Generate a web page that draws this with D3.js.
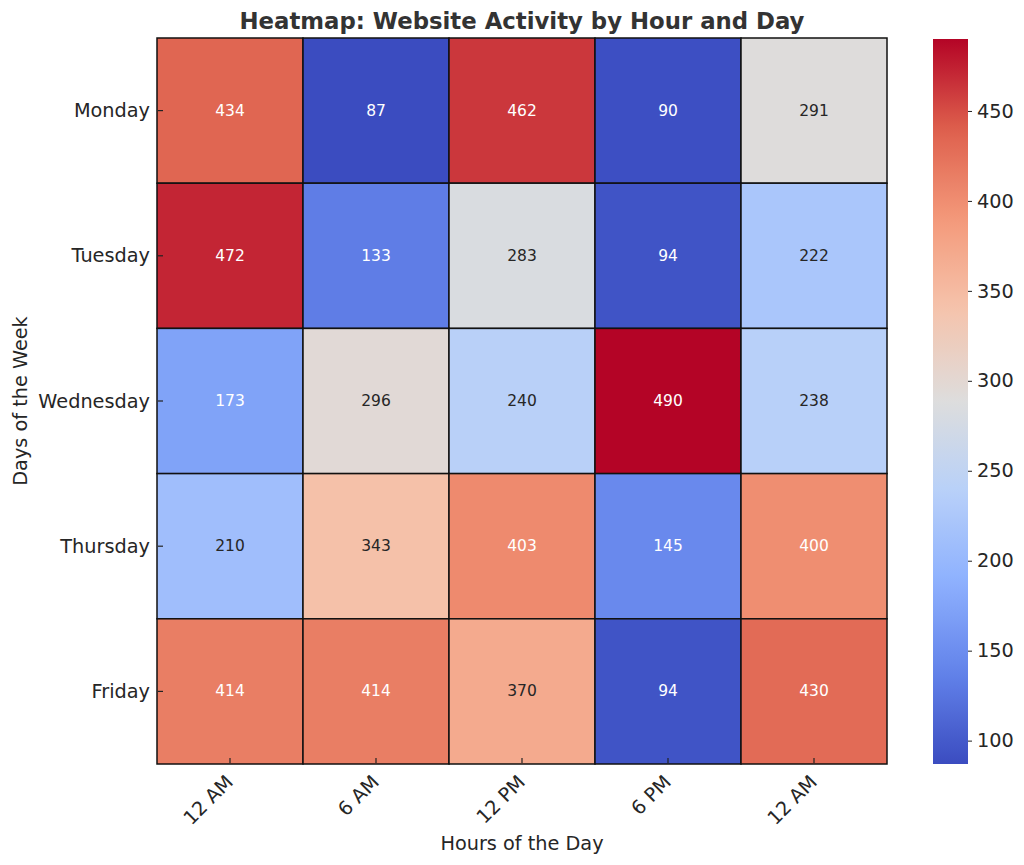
<!DOCTYPE html>
<html>
<head>
<meta charset="utf-8">
<script src="https://cdn.jsdelivr.net/npm/d3@7"></script>
<style>
  body { margin: 0; background: #fff; }
  svg { display: block; font-family: "DejaVu Sans", sans-serif; }
</style>
</head>
<body>
<svg id="chart" width="1024" height="865"></svg>
<script>
const days = ["Monday", "Tuesday", "Wednesday", "Thursday", "Friday"];
const hours = ["12 AM", "6 AM", "12 PM", "6 PM", "12 AM "];
const hourLabels = ["12 AM", "6 AM", "12 PM", "6 PM", "12 AM"];
const values = [
  [434, 87, 462, 90, 291],
  [472, 133, 283, 94, 222],
  [173, 296, 240, 490, 238],
  [210, 343, 403, 145, 400],
  [414, 414, 370, 94, 430]
];
const colorbarTicks = [100, 150, 200, 250, 300, 350, 400, 450];
const vmin = 87, vmax = 490;

// matplotlib coolwarm samples
const coolwarmStops = ["#3b4cc0", "#6282ea", "#8db0fe", "#b8d0f9", "#dddddd", "#f5c4ad", "#f49a7b", "#de604d", "#b40426"];
const coolwarm = d3.piecewise(d3.interpolateRgb, coolwarmStops);
const color = d3.scaleSequential(coolwarm).domain([vmin, vmax]);

const svg = d3.select("#chart");
const M = { left: 157, right: 887, top: 38, bottom: 764 };
const x = d3.scaleBand().domain(hours).range([M.left, M.right]);
const y = d3.scaleBand().domain(days).range([M.top, M.bottom]);

function lum(c) {
  const rgb = d3.rgb(c);
  const f = v => { v /= 255; return v <= 0.03928 ? v / 12.92 : Math.pow((v + 0.055) / 1.055, 2.4); };
  return 0.2126 * f(rgb.r) + 0.7152 * f(rgb.g) + 0.0722 * f(rgb.b);
}

const cells = [];
values.forEach((row, i) => row.forEach((v, j) => cells.push({ day: days[i], hour: hours[j], v })));

svg.append("g").selectAll("rect").data(cells).join("rect")
  .attr("x", d => x(d.hour)).attr("y", d => y(d.day))
  .attr("width", x.bandwidth()).attr("height", y.bandwidth())
  .attr("fill", d => color(d.v))
  .attr("stroke", "#111").attr("stroke-width", 1.5);

svg.append("g").selectAll("text").data(cells).join("text")
  .attr("x", d => x(d.hour) + x.bandwidth() / 2)
  .attr("y", d => y(d.day) + y.bandwidth() / 2)
  .attr("text-anchor", "middle").attr("dominant-baseline", "central")
  .attr("font-size", "15.5px")
  .attr("fill", d => lum(color(d.v)) > 0.408 ? "#262626" : "#ffffff")
  .text(d => d.v);

// ticks inside plot
svg.append("g").selectAll("line").data(hours).join("line")
  .attr("x1", d => x(d) + x.bandwidth() / 2).attr("x2", d => x(d) + x.bandwidth() / 2)
  .attr("y1", M.bottom - 6).attr("y2", M.bottom - 1)
  .attr("stroke", "#222").attr("stroke-width", 1.2);
svg.append("g").selectAll("line").data(days).join("line")
  .attr("y1", d => y(d) + y.bandwidth() / 2).attr("y2", d => y(d) + y.bandwidth() / 2)
  .attr("x1", M.left + 1).attr("x2", M.left + 6)
  .attr("stroke", "#222").attr("stroke-width", 1.2);

// y labels
svg.append("g").selectAll("text").data(days).join("text")
  .attr("x", 150).attr("y", d => y(d) + y.bandwidth() / 2)
  .attr("text-anchor", "end").attr("dominant-baseline", "central")
  .attr("font-size", "19.3px").attr("fill", "#262626")
  .text(d => d);

// x labels
svg.append("g").selectAll("text").data(hours).join("text")
  .attr("transform", (d) => `translate(${x(d) + x.bandwidth() / 2 - 6},${M.bottom + 9}) rotate(-45)`)
  .attr("text-anchor", "end").attr("dominant-baseline", "hanging")
  .attr("font-size", "19.3px").attr("fill", "#262626")
  .text((d, i) => hourLabels[i]);

// titles
svg.append("text").attr("x", (M.left + M.right) / 2).attr("y", 29)
  .attr("text-anchor", "middle").attr("font-size", "22.8px").attr("font-weight", "bold")
  .attr("fill", "#333").text("Heatmap: Website Activity by Hour and Day");
svg.append("text").attr("x", (M.left + M.right) / 2).attr("y", 850)
  .attr("text-anchor", "middle").attr("font-size", "19.3px").attr("fill", "#262626")
  .text("Hours of the Day");
svg.append("text").attr("transform", `translate(27,${(M.top + M.bottom) / 2}) rotate(-90)`)
  .attr("text-anchor", "middle").attr("font-size", "19.3px").attr("fill", "#262626")
  .text("Days of the Week");

// colorbar
const cb = { x: 933, w: 35, top: 39, bottom: 764 };
const cy = d3.scaleLinear().domain([vmin, vmax]).range([cb.bottom, cb.top]);
const defs = svg.append("defs");
const grad = defs.append("linearGradient").attr("id", "cbgrad")
  .attr("x1", 0).attr("y1", 1).attr("x2", 0).attr("y2", 0);
d3.range(0, 1.0001, 0.02).forEach(t => {
  grad.append("stop").attr("offset", t).attr("stop-color", coolwarm(t));
});
svg.append("rect").attr("x", cb.x).attr("y", cb.top).attr("width", cb.w)
  .attr("height", cb.bottom - cb.top).attr("fill", "url(#cbgrad)");
const cbAxis = d3.axisRight(cy).tickValues(colorbarTicks).tickSize(4).tickPadding(5);
const cbg = svg.append("g").attr("transform", `translate(${cb.x + cb.w},0)`).call(cbAxis);
cbg.select(".domain").remove();
cbg.selectAll(".tick line").attr("stroke", "#222");
cbg.selectAll(".tick text").attr("font-size", "19.3px").attr("fill", "#262626")
  .attr("font-family", "DejaVu Sans, sans-serif");
</script>
</body>
</html>
